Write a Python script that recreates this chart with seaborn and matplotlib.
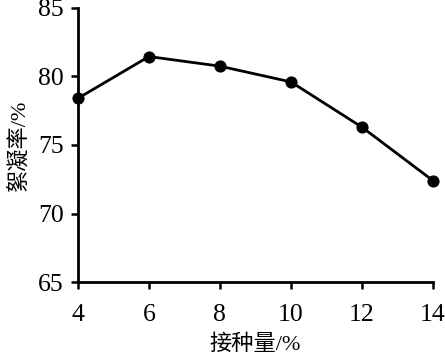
import matplotlib
matplotlib.use("Agg")
import matplotlib.pyplot as plt
import seaborn as sns
import pandas as pd

inoculum = [4, 6, 8, 10, 12, 14]
flocculation = [78.4, 81.45, 80.75, 79.6, 76.3, 72.4]
xticks = [4, 6, 8, 10, 12, 14]
yticks = [65, 70, 75, 80, 85]

sns.set_theme(style="ticks")
plt.rcParams['font.family'] = ['Liberation Serif', 'Noto Sans CJK SC']

df = pd.DataFrame({"x": inoculum, "y": flocculation})
fig = plt.figure(figsize=(4.45, 3.58), dpi=100)
ax = fig.add_axes([0.175, 0.212, 0.798, 0.766])
sns.lineplot(data=df, x="x", y="y", ax=ax, color="black", linewidth=2.0,
             marker="o", markersize=8, markeredgecolor="black", markerfacecolor="black")
ax.set_xlim(4, 14)
ax.set_ylim(65, 85)
ax.set_xticks(xticks)
ax.set_yticks(yticks)
for s in ["top", "right"]:
    ax.spines[s].set_visible(False)
for s in ["left", "bottom"]:
    ax.spines[s].set_linewidth(2.0)
    ax.spines[s].set_color("black")
    ax.spines[s].set_clip_on(False)
ax.tick_params(axis="both", direction="out", length=5, width=1.8, colors="black",
               labelsize=18.5)
ax.tick_params(axis="x", pad=11)
ax.tick_params(axis="y", pad=5)
ax.set_xlabel("接种量/%", fontsize=16, labelpad=6, color="black")
ax.set_ylabel("絮凝率/%", fontsize=16, labelpad=6, color="black")
for line in ax.lines:
    line.set_clip_on(False)
fig.savefig("out.png", dpi=100)
